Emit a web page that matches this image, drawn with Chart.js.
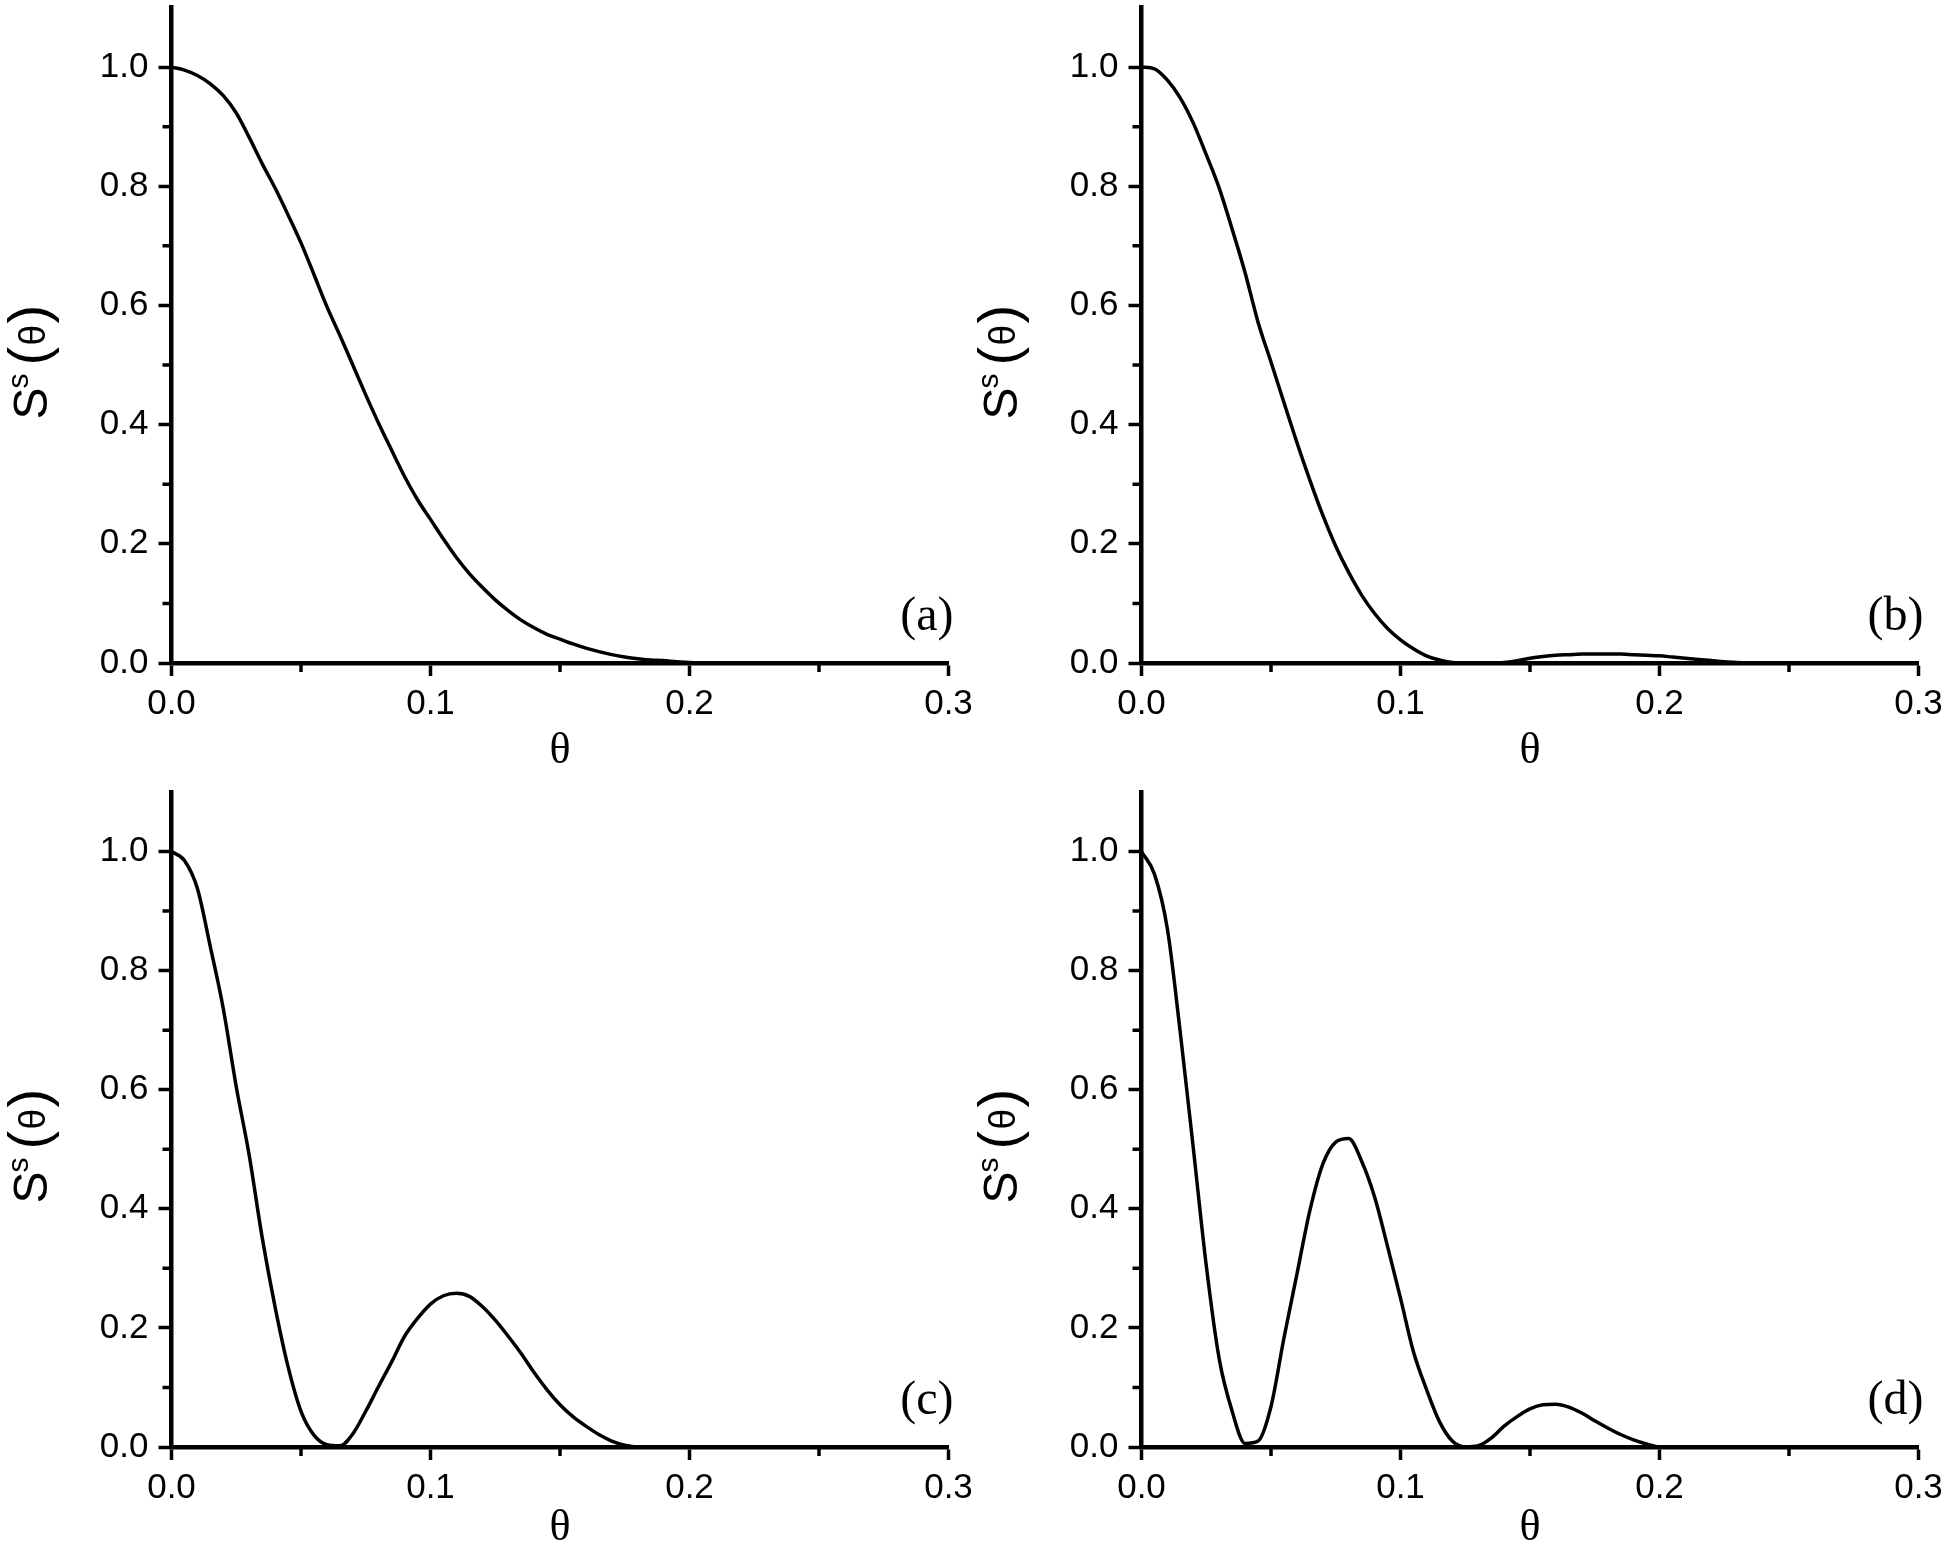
<!DOCTYPE html>
<html lang="en">
<head>
    <meta charset="UTF-8">
    <title>S(theta) panels</title>
    <script src="https://cdn.jsdelivr.net/npm/chart.js"></script>
    <style>
        body { margin: 0; background: #fff; }
        .panel { position: absolute; }
    </style>
</head>
<body>
    <div class="panel" style="left:0px;top:0px"><canvas id="chartA" width="975" height="775"></canvas></div>
    <div class="panel" style="left:975px;top:0px"><canvas id="chartB" width="975" height="775"></canvas></div>
    <div class="panel" style="left:0px;top:784px"><canvas id="chartC" width="975" height="767"></canvas></div>
    <div class="panel" style="left:975px;top:784px"><canvas id="chartD" width="975" height="767"></canvas></div>
    <script>
        // theta grid (x values) shared by all four panels
        const theta = [
            0.000, 0.005, 0.010, 0.015, 0.020, 0.025, 0.030, 0.035, 0.040, 0.045,
            0.050, 0.055, 0.060, 0.065, 0.070, 0.075, 0.080, 0.085, 0.090, 0.095,
            0.100, 0.105, 0.110, 0.115, 0.120, 0.125, 0.130, 0.135, 0.140, 0.145,
            0.150, 0.155, 0.160, 0.165, 0.170, 0.175, 0.180, 0.185, 0.190, 0.195,
            0.200, 0.205, 0.210, 0.215, 0.220, 0.225, 0.230, 0.235, 0.240, 0.245,
            0.250, 0.255, 0.260, 0.265, 0.270, 0.275, 0.280, 0.285, 0.290, 0.295,
            0.300
        ];
        // S^s(theta)
        const sA = [
            1.000, 0.995, 0.986, 0.972, 0.952, 0.923, 0.882, 0.838, 0.797, 0.752,
            0.705, 0.652, 0.598, 0.550, 0.500, 0.450, 0.402, 0.357, 0.313, 0.274,
            0.241, 0.208, 0.177, 0.150, 0.127, 0.106, 0.088, 0.072, 0.059, 0.048,
            0.040, 0.032, 0.025, 0.019, 0.014, 0.010, 0.007, 0.005, 0.004, 0.002,
            0.001, 0, 0, 0, 0, 0, 0, 0, 0, 0,
            0, 0, 0, 0, 0, 0, 0, 0, 0, 0,
            0
        ];
        const sB = [
            1.000, 0.997, 0.978, 0.948, 0.906, 0.853, 0.797, 0.728, 0.655, 0.572,
            0.505, 0.437, 0.370, 0.307, 0.248, 0.196, 0.152, 0.114, 0.083, 0.058,
            0.039, 0.024, 0.012, 0.005, 0.001, 0, 0, 0, 0.001, 0.004,
            0.008, 0.011, 0.013, 0.014, 0.015, 0.015, 0.015, 0.015, 0.014, 0.013,
            0.012, 0.010, 0.008, 0.006, 0.004, 0.002, 0.001, 0, 0, 0,
            0, 0, 0, 0, 0, 0, 0, 0, 0, 0,
            0
        ];
        const sC = [
            1.000, 0.985, 0.938, 0.840, 0.736, 0.605, 0.490, 0.352, 0.235, 0.135,
            0.060, 0.020, 0.004, 0.002, 0.022, 0.060, 0.102, 0.143, 0.186, 0.216,
            0.240, 0.254, 0.258, 0.253, 0.236, 0.213, 0.186, 0.157, 0.125, 0.096,
            0.071, 0.051, 0.035, 0.021, 0.010, 0.003, 0, 0, 0, 0,
            0, 0, 0, 0, 0, 0, 0, 0, 0, 0,
            0, 0, 0, 0, 0, 0, 0, 0, 0, 0,
            0
        ];
        const sD = [
            1.000, 0.962, 0.870, 0.695, 0.502, 0.305, 0.148, 0.060, 0.006, 0.010,
            0.068, 0.183, 0.290, 0.397, 0.475, 0.512, 0.518, 0.480, 0.420, 0.337,
            0.250, 0.160, 0.097, 0.043, 0.010, 0, 0.002, 0.015, 0.035, 0.051,
            0.064, 0.071, 0.072, 0.067, 0.057, 0.044, 0.032, 0.021, 0.012, 0.005,
            0, 0, 0, 0, 0, 0, 0, 0, 0, 0,
            0, 0, 0, 0, 0, 0, 0, 0, 0, 0,
            0
        ];
        const panelLabels = ['(a)', '(b)', '(c)', '(d)'];
        const xMajorTicks = [0, 0.1, 0.2, 0.3];
        const xMinorTicks = [0.05, 0.15, 0.25];
        const yMajorTicks = [0, 0.2, 0.4, 0.6, 0.8, 1.0];
        const yMinorTicks = [0.1, 0.3, 0.5, 0.7, 0.9];

        const SANS = '"Liberation Sans", Arial, sans-serif';
        const SERIF = '"Liberation Serif", "Times New Roman", serif';

        Chart.defaults.color = '#000';

        // minor ticks, axis titles and panel letter
        const decorPlugin = {
            id: 'decor',
            afterDraw(chart, args, opts) {
                const ctx = chart.ctx;
                const a = chart.chartArea;
                const xs = chart.scales.x, ys = chart.scales.y;
                ctx.save();
                ctx.strokeStyle = '#000';
                ctx.fillStyle = '#000';
                ctx.lineWidth = 3.5;
                ctx.beginPath();
                xMinorTicks.forEach(v => {
                    const px = xs.getPixelForValue(v);
                    ctx.moveTo(px, a.bottom);
                    ctx.lineTo(px, a.bottom + 9);
                });
                yMinorTicks.forEach(v => {
                    const py = ys.getPixelForValue(v);
                    ctx.moveTo(a.left, py);
                    ctx.lineTo(a.left - 9, py);
                });
                ctx.stroke();

                // y title S^s(θ), rotated
                ctx.save();
                ctx.translate(a.left - 124.5, a.bottom - 243.5);
                ctx.rotate(-Math.PI / 2);
                ctx.textAlign = 'left';
                ctx.textBaseline = 'alphabetic';
                ctx.font = '48px ' + SANS;
                ctx.fillText('S', 0, 0);
                ctx.font = '30px ' + SANS;
                ctx.fillText('s', 31, -19);
                ctx.font = '56px ' + SANS;
                ctx.fillText('(', 54, 0);
                ctx.font = '37px ' + SANS;
                ctx.fillText('\u03B8', 74, -2);
                ctx.font = '56px ' + SANS;
                ctx.fillText(')', 96, 0);
                ctx.restore();

                // x title θ
                ctx.font = '44px ' + SERIF;
                ctx.textAlign = 'center';
                ctx.textBaseline = 'alphabetic';
                ctx.fillText('\u03B8', (a.left + a.right) / 2, a.bottom + opts.titleOffset);

                // panel letter
                ctx.font = '48px ' + SERIF;
                ctx.textAlign = 'right';
                ctx.fillText(opts.label, a.right + 5, a.bottom - 33);
                ctx.restore();
            }
        };

        function makePanel(canvasId, values, label, box) {
            const ctx = document.getElementById(canvasId).getContext('2d');
            const points = theta.map((t, i) => ({ x: t, y: values[i] }));
            return new Chart(ctx, {
                type: 'line',
                data: {
                    datasets: [{
                        data: points,
                        borderColor: '#000',
                        borderWidth: 3.5,
                        pointRadius: 0,
                        fill: false,
                        cubicInterpolationMode: 'monotone'
                    }]
                },
                options: {
                    responsive: false,
                    animation: false,
                    devicePixelRatio: 1,
                    events: [],
                    layout: {
                        padding: { left: 0, top: box.top, right: box.width - box.right, bottom: 0 }
                    },
                    plugins: {
                        legend: { display: false },
                        tooltip: { enabled: false },
                        decor: { label: label, titleOffset: box.titleOffset }
                    },
                    scales: {
                        x: {
                            type: 'linear',
                            min: 0,
                            max: 0.3,
                            afterBuildTicks: s => { s.ticks = xMajorTicks.map(v => ({ value: v })); },
                            afterFit: s => {
                                s.height = box.height - box.bottom;
                                s.paddingLeft = 0;
                                s.paddingRight = 0;
                            },
                            grid: { drawOnChartArea: false, drawTicks: true, tickLength: 13, tickWidth: 3.5, tickColor: '#000' },
                            border: { display: true, color: '#000', width: 4.5 },
                            ticks: {
                                autoSkip: false,
                                maxRotation: 0,
                                padding: 7,
                                color: '#000',
                                font: { family: SANS, size: 35 },
                                callback: v => Number(v).toFixed(1)
                            }
                        },
                        y: {
                            type: 'linear',
                            min: 0,
                            max: 1.1,
                            afterBuildTicks: s => { s.ticks = yMajorTicks.map(v => ({ value: v })); },
                            afterFit: s => {
                                s.width = box.left;
                                s.paddingTop = 0;
                                s.paddingBottom = 0;
                            },
                            grid: { drawOnChartArea: false, drawTicks: true, tickLength: 13, tickWidth: 3.5, tickColor: '#000' },
                            border: { display: true, color: '#000', width: 4.5 },
                            ticks: {
                                autoSkip: false,
                                padding: 10,
                                color: '#000',
                                font: { family: SANS, size: 35 },
                                callback: v => Number(v).toFixed(1)
                            }
                        }
                    }
                },
                plugins: [decorPlugin]
            });
        }

        makePanel('chartA', sA, panelLabels[0], { width: 975, height: 775, left: 171.5, right: 948.5, top: 7.5, bottom: 663, titleOffset: 100 });
        makePanel('chartB', sB, panelLabels[1], { width: 975, height: 775, left: 166.5, right: 943.5, top: 7.5, bottom: 663, titleOffset: 100 });
        makePanel('chartC', sC, panelLabels[2], { width: 975, height: 767, left: 171.5, right: 948.5, top: 8, bottom: 663, titleOffset: 93 });
        makePanel('chartD', sD, panelLabels[3], { width: 975, height: 767, left: 166.5, right: 943.5, top: 8, bottom: 663, titleOffset: 93 });
    </script>
</body>
</html>
